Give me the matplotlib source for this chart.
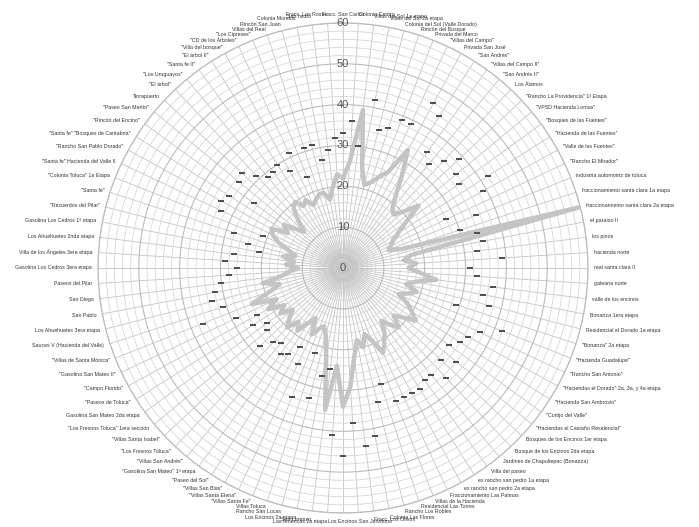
import numpy as np
import matplotlib
matplotlib.use("Agg")
import matplotlib.pyplot as plt
from matplotlib.ticker import MultipleLocator

plt.rcParams['font.family'] = ['Liberation Sans', 'DejaVu Sans']

categories = [
    "Fracc. San Carlos", "Colonia Centro", "Villas del Sol 1a etapa", "Villas del Sol 2a etapa",
    "Colonia del Sol (Valle Dorado)", "Rincón del Bosque", "Privada del Marco", "\"Villas del Campo\"",
    "Privada San José", "\"San Andrés\"", "\"Villas del Campo II\"", "\"San Andrés II\"",
    "Los Álamos", "\"Rancho La Providencia\" 1ª Etapa", "\"VPSD Hacienda Lomas\"",
    "\"Bosques de las Fuentes\"", "\"Hacienda de las Fuentes\"", "\"Valle de las Fuentes\"",
    "\"Rancho El Mirador\"", "industria automotriz de toluca", "fraccionamiento santa clara 1a etapa",
    "fraccionamiento santa clara 2a etapa", "el paraíso II", "los pinos", "hacienda norte",
    "real santa clara II", "galeana norte", "valle de los encinos", "Bonanza 1era etapa",
    "Residencial el Dorado 1a etapa", "\"Bonanza\" 2a etapa", "\"Hacienda Guadalupe\"",
    "\"Rancho San Antonio\"", "\"Haciendas el Dorado\" 2a, 3a, y 4a etapa", "\"Hacienda San Ambrosio\"",
    "\"Cortijo del Valle\"", "\"Haciendas el Castaño Residencial\"", "Bosques de los Encinos 1er etapa",
    "Bosque de los Encinos 2da etapa", "Jardines de Chapultepec (Bonanza)", "Villa del paseo",
    "ex rancho san pedro 1a etapa", "ex rancho san pedro 2a etapa", "Fraccionamiento Las Palmas",
    "Villas de la Hacienda", "Residencial Las Torres", "Rancho Los Robles", "Colonia Las Flores",
    "Fracc. Los Olivos", "San Jerónimo", "Los Encinos", "Las Américas 2a etapa", "San Lorenzo",
    "Los Encinos 2a etapa", "Rancho San Lucas", "Villas Toluca", "\"Villas Santa Fe\"",
    "\"Villas Santa Elena\"", "\"Villas San Blas\"", "\"Paseo del Sol\"",
    "\"Gasolina San Mateo\" 1ª etapa", "\"Villas San Andrés\"", "\"Los Fresnos Toluca\"",
    "\"Villas Santa Isabel\"", "\"Los Fresnos Toluca\" 1era sección", "Gasolina San Mateo 2da etapa",
    "\"Paseos de Toluca\"", "\"Campo Florido\"", "\"Gasolina San Mateo II\"",
    "\"Villas de Santa Mónica\"", "Sauces V (Hacienda del Valle)", "Los Ahuehuetes 3era etapa",
    "San Pablo", "San Diego", "Paseos del Pilar", "Gasolina Los Cedros 3era etapa",
    "Villa de los Ángeles 3era etapa", "Los Ahuehuetes 2nda etapa", "Gasolina Los Cedros 1ª etapa",
    "\"Recuerdos del Pilar\"", "\"Santa fe\"", "\"Colonia Toluca\" 1a Etapa",
    "\"Santa fe\" Hacienda del Valle II", "\"Rancho San Pablo Dorado\"",
    "\"Santa fe\" \"Bosques de Cantabria\"", "\"Rincón del Encino\"", "\"Paseo San Martín\"",
    "Terrapuerto", "\"El árbol\"", "\"Los Uruguayos\"", "\"Santa fe II\"", "\"El árbol II\"",
    "\"Villa del bosque\"", "\"CD de los Árboles\"", "\"Los Cipreses\"", "Villas del Real",
    "Rincón San Juan", "Colonia Morelos", "San Isidro", "Fracc. Las Rosas",
]

series_line = [
    22, 26, 39, 25, 21, 22, 24, 26, 33, 27,
    22, 19, 18, 20, 24, 19, 16, 14, 13, 12,
    15, 60, 17, 15, 18, 16, 19, 23, 18, 16,
    19, 17, 15, 18, 20, 22, 19, 17, 20, 18,
    16, 19, 21, 23, 19, 17, 20, 18, 22, 29,
    34, 24, 35, 22, 17, 15, 16, 18, 14, 16,
    19, 17, 20, 18, 16, 19, 17, 21, 18, 24,
    19, 16, 20, 15, 13, 11, 14, 12, 15, 12,
    14, 17, 19, 20, 16, 18, 15, 13, 16, 19,
    20, 18, 19, 17, 18, 19, 19, 17, 20, 23,
]

series_markers = [
    33, 36, 30, 42, 35, 36, 39, 39, 46, 44,
    35, 33, 36, 39, 36, 35, 42, 39, 28, 35,
    30, 34, 35, 33, 39, 31, 33, 37, 35, 37,
    29, 42, 37, 35, 34, 32, 36, 33, 37, 34,
    34, 35, 35, 35, 35, 30, 34, 42, 44, 38,
    46, 41, 25, 27, 33, 22, 34, 26, 22, 25,
    26, 24, 25, 28, 24, 23, 26, 24, 29, 37,
    31, 33, 32, 30, 28, 26, 29, 27, 21, 24,
    28, 21, 33, 34, 33, 27, 33, 34, 31, 29,
    29, 30, 27, 31, 24, 31, 31, 27, 29, 32,
]

r_ticks = [0, 10, 20, 30, 40, 50, 60]

n = len(categories)
theta = np.linspace(0, 2 * np.pi, n, endpoint=False)

fig = plt.figure(figsize=(6.99, 5.27), dpi=100)
ax = fig.add_axes([0.1402, 0.0266, 0.701, 0.9298], projection='polar')
ax.set_theta_zero_location('N')
ax.set_theta_direction(-1)
ax.set_ylim(0, 60)

# grid
ax.set_xticks(theta)
ax.set_xticklabels([])
ax.set_yticks(r_ticks)
ax.set_yticklabels([])
ax.yaxis.set_minor_locator(MultipleLocator(2))
ax.grid(True, which='major', axis='x', color='#c4c4c4', lw=0.6)
ax.grid(True, which='major', axis='y', color='#bcbcbc', lw=0.8)
ax.grid(True, which='minor', axis='y', color='#d6d6d6', lw=0.6)
ax.tick_params(axis='both', which='both', length=0)
ax.spines['polar'].set_color('#bdbdbd')
ax.spines['polar'].set_linewidth(0.9)

# darker hub where the spokes converge
full = np.linspace(0, 2 * np.pi, 200)
for rr, a in [(7, 0.06), (5, 0.08), (3.5, 0.10), (2, 0.12)]:
    ax.fill_between(full, 0, rr, color='#707070', alpha=a, lw=0, zorder=1)

# data
th_closed = np.append(theta, theta[0])
line_closed = np.append(series_line, series_line[0])
ax.plot(th_closed, line_closed, color='#c4c4c4', lw=3.2, solid_joinstyle='round', zorder=3)
ax.plot(theta, series_markers, ls='none', marker='_', ms=4, mew=1.2, color='#505050', zorder=4)

# radial tick labels
for v in r_ticks:
    ax.text(0, v, str(v), ha='center', va='center', fontsize=8, color='#555555', zorder=5)

# category labels
for t, lab in zip(theta, categories):
    deg = np.degrees(t)
    if abs(deg) < 0.5 or abs(deg - 180) < 0.5:
        ha = 'center'
    elif deg < 180:
        ha = 'left'
    else:
        ha = 'right'
    if deg < 12 or deg > 348:
        va = 'bottom'
    elif 168 < deg < 192:
        va = 'top'
    else:
        va = 'center'
    ax.text(t, 61.5, lab, ha=ha, va=va, fontsize=3.8, color='#333333', clip_on=False)

fig.savefig('out.png', dpi=100, facecolor='white')
